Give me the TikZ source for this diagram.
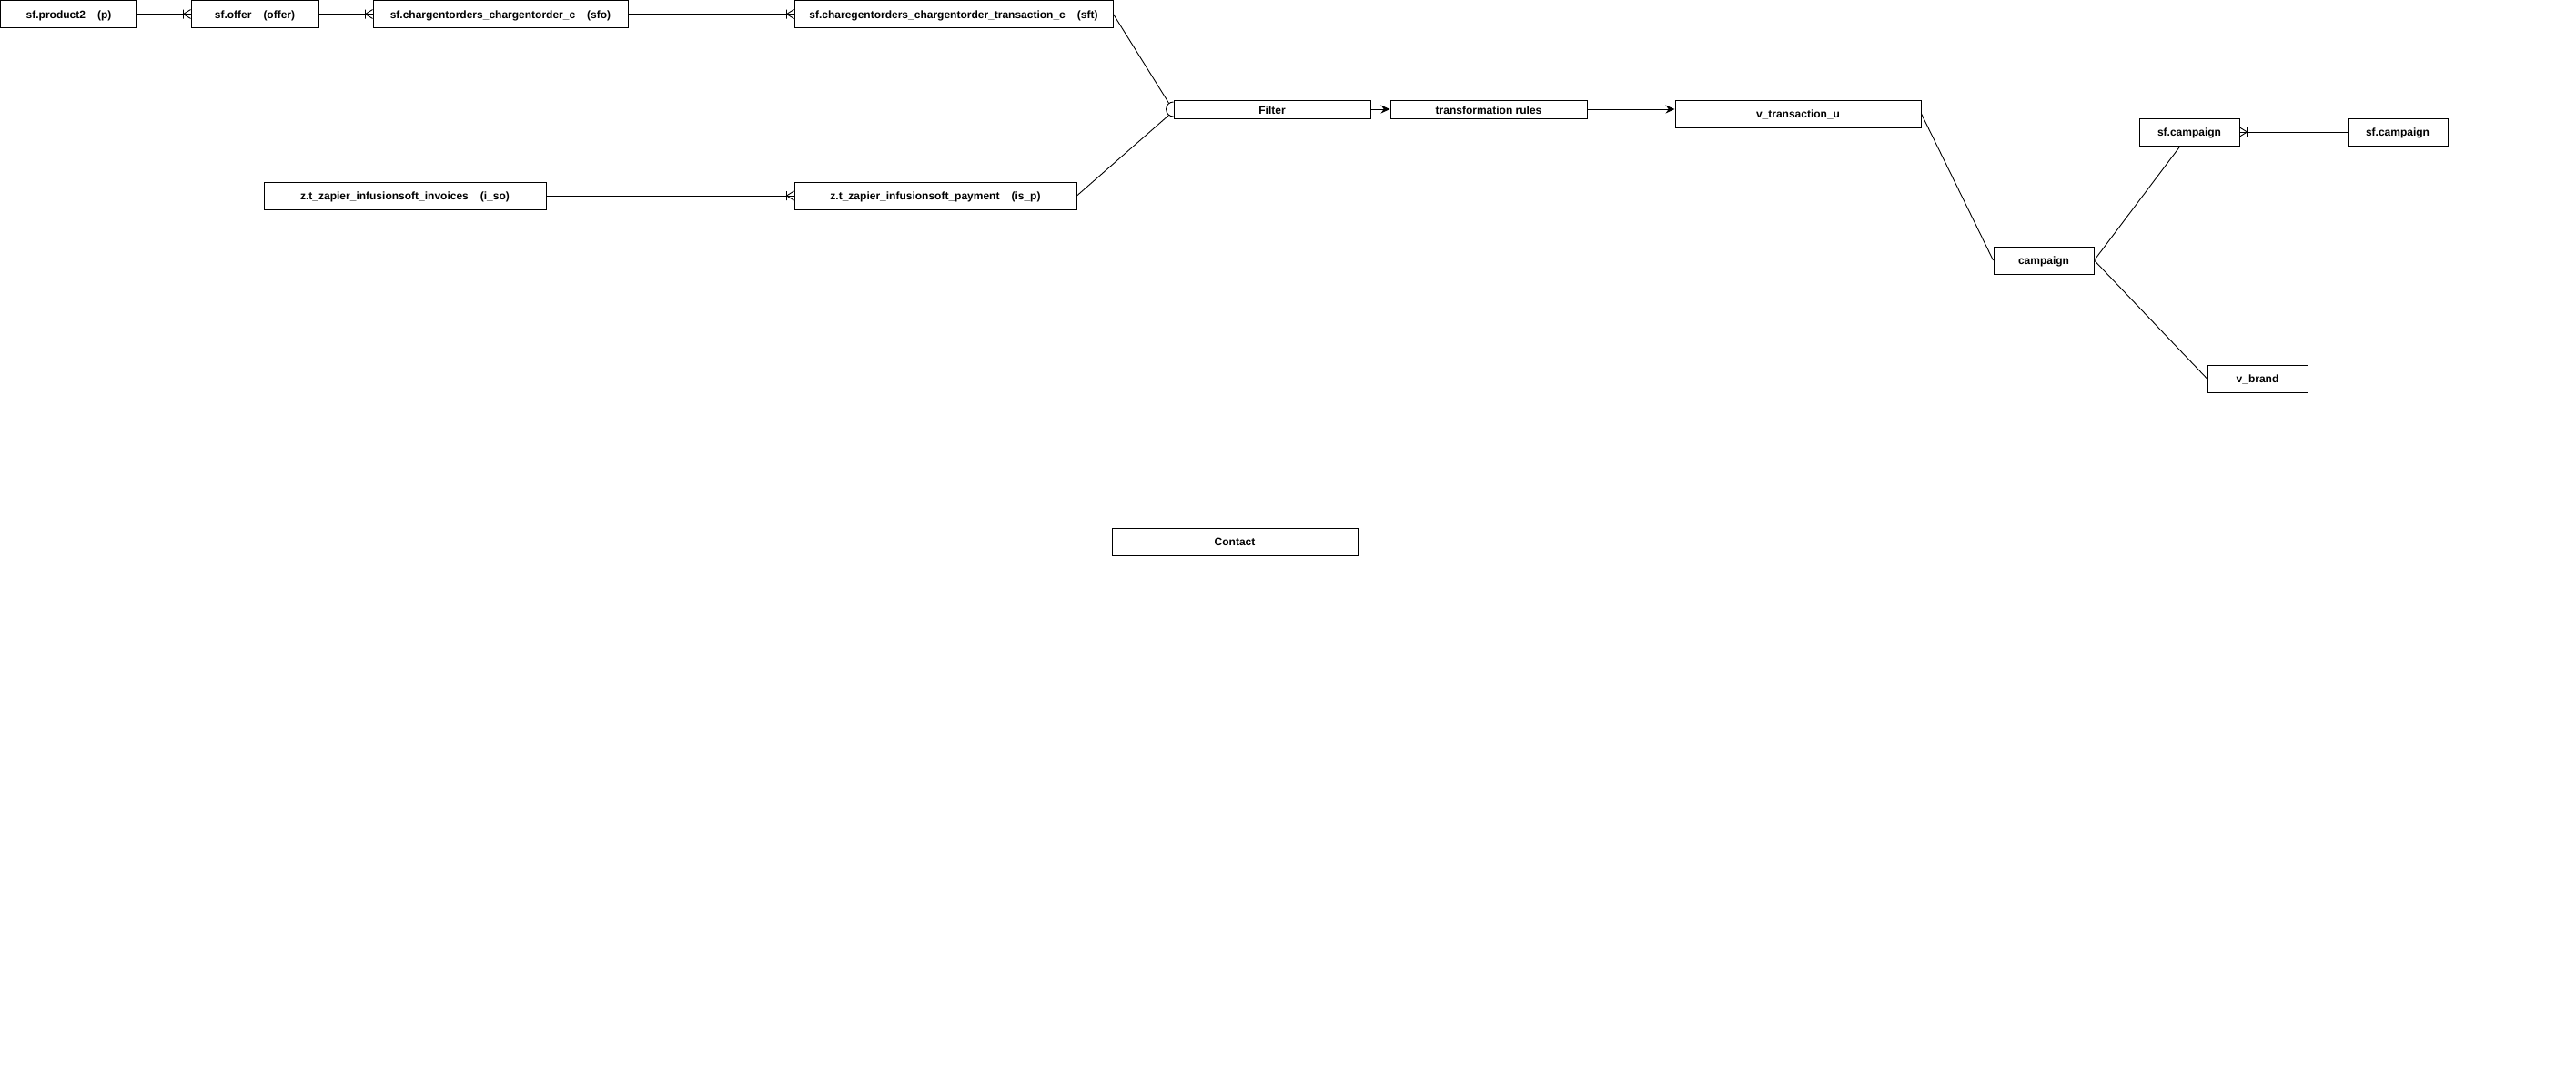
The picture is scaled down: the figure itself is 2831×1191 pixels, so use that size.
\documentclass[tikz,border=0pt]{standalone}
\usepackage{fontspec}
\setmainfont{Liberation Sans}
\usetikzlibrary{arrows.meta,calc}
\newcommand{\colgap}{\hspace{13pt}}
\begin{document}
\begin{tikzpicture}[x=1pt,y=-1pt,
  entity/.style={draw,line width=1pt,rectangle,inner sep=0pt,fill=white,
    text height=9.5pt,text depth=0.5pt,
    font=\bfseries\fontsize{12}{14}\selectfont},
  slim/.style={text height=11.5pt,text depth=0pt},
  dims/.style 2 args={minimum width=#1pt,minimum height=#2pt},
  link/.style={line width=0.9pt},
  flow/.style={line width=0.9pt,-{Stealth[length=10pt,width=9pt]}},
  crowfoot/.pic={\draw[line width=0.9pt] (-8,-5) -- (-8,5) (0,-5) -- (-8,0) -- (0,5);}
]
\useasboundingbox (0,0) rectangle (2831,1191);

% source tables
\node[entity,dims={150}{30}] (p)     at (75.5,15.5) {sf.product2\colgap(p)};
\node[entity,dims={140}{30}] (offer) at (280,15.5)  {sf.offer\colgap(offer)};
\node[entity,dims={280}{30}] (sfo)   at (550,15.5)  {sf.chargentorders\_chargentorder\_c\colgap(sfo)};
\node[entity,dims={350}{30}] (sft)   at (1048,15.5) {sf.charegentorders\_chargentorder\_transaction\_c\colgap(sft)};
\node[entity,dims={310}{30}] (inv)   at (445,215)   {z.t\_zapier\_infusionsoft\_invoices\colgap(i\_so)};
\node[entity,dims={310}{30}] (isp)   at (1028,215)  {z.t\_zapier\_infusionsoft\_payment\colgap(is\_p)};

% processing steps
\node[entity,slim,dims={216}{20}] (filter) at (1398,120) {Filter};
\node[entity,slim,dims={216}{20}] (tr)     at (1636,120) {transformation rules};
\node[entity,dims={270}{30}] (vt)     at (1976,125) {v\_transaction\_u};

% campaign side
\node[entity,dims={110}{30}] (camp) at (2246,286) {campaign};
\node[entity,dims={110}{30}] (sfcL) at (2406,145) {sf.campaign};
\node[entity,dims={110}{30}] (sfcR) at (2635,145) {sf.campaign};
\node[entity,dims={110}{30}] (vb)   at (2481,416) {v\_brand};

\node[entity,dims={270}{30}] (contact) at (1357,595) {Contact};

% one-to-many relations
\draw[link] (p.east) -- (offer.west);
\pic at (offer.west) {crowfoot};
\draw[link] (offer.east) -- (sfo.west);
\pic at (sfo.west) {crowfoot};
\draw[link] (sfo.east) -- (sft.west);
\pic at (sft.west) {crowfoot};
\draw[link] (inv.east) -- (isp.west);
\pic at (isp.west) {crowfoot};
\draw[link] (sfcR.west) -- (sfcL.east);
\pic[rotate=180] at (sfcL.east) {crowfoot};

% merge into the filter
\coordinate (ftop) at ($(filter.west)+(-4.8,-6.4)$);
\coordinate (fbot) at ($(filter.west)+(-4.8,6.4)$);
\draw[link] ($(filter.west)+(0,-8)$) arc[start angle=270,end angle=90,radius=8];
\draw[link] (sft.east) -- (ftop);
\draw[link] (isp.east) -- (fbot);

% pipeline
\draw[flow] (filter.east) -- (tr.west);
\draw[flow] (tr.east) -- (tr.east -| vt.west);

% campaign links
\coordinate (sfcfoot) at ($(sfcL.south)+(-10,0)$);
\draw[link] (vt.east) -- (camp.west);
\draw[link] (camp.east) -- (sfcfoot);
\draw[link] (camp.east) -- (vb.west);
\end{tikzpicture}
\end{document}
